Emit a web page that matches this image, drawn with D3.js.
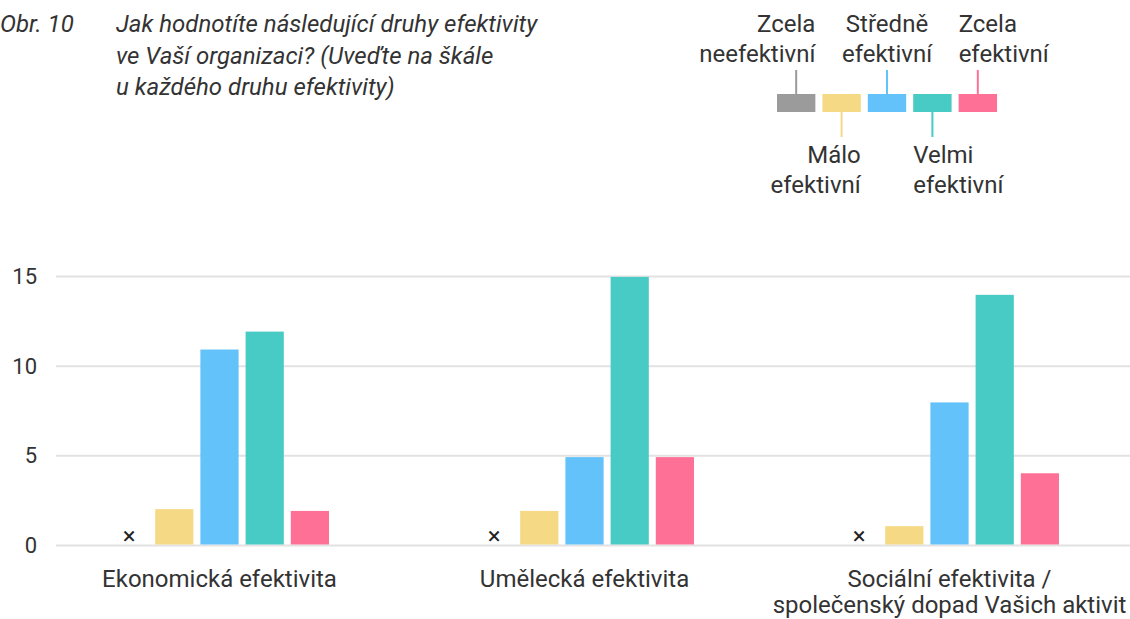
<!DOCTYPE html>
<html>
<head>
<meta charset="utf-8">
<script src="https://cdn.jsdelivr.net/npm/d3@7"></script>
<style>
body { margin: 0; background: #fff; }
text { font-family: Roboto, "DejaVu Sans", sans-serif; fill: #333; }
</style>
</head>
<body>
<script>
var groups = ["Ekonomická efektivita", "Umělecká efektivita", "Sociální efektivita / společenský dopad Vašich aktivit"];
var groupLines = [["Ekonomická efektivita"], ["Umělecká efektivita"], ["Sociální efektivita /", "společenský dopad Vašich aktivit"]];
var series = ["Zcela neefektivní", "Málo efektivní", "Středně efektivní", "Velmi efektivní", "Zcela efektivní"];
var colors = ["#9b9b9b", "#f6d985", "#62c2f9", "#48cac5", "#ff7096"];
var zcelaNeefektivni = [0, 0, 0];
var maloEfektivni = [2, 1.9, 1.05];
var stredneEfektivni = [10.9, 4.9, 7.95];
var velmiEfektivni = [11.9, 14.95, 13.95];
var zcelaEfektivni = [1.9, 4.9, 4];
var yTicks = [0, 5, 10, 15];
var titleLines = ["Jak hodnotíte následující druhy efektivity", "ve Vaší organizaci? (Uveďte na škále", "u každého druhu efektivity)"];

var values = [zcelaNeefektivni, maloEfektivni, stredneEfektivni, velmiEfektivni, zcelaEfektivni];

var width = 1130, height = 619;
var svg = d3.select("body").append("svg")
  .attr("width", width)
  .attr("height", height);

var x0 = d3.scaleBand().domain(groups).range([37, 1132]);
var x1 = d3.scaleBand().domain(series).range([73, 292]).paddingInner(0.155);
var y = d3.scaleLinear().domain([0, 15]).range([545, 276]);

// grid
svg.append("g").selectAll("line")
  .data(yTicks)
  .join("line")
  .attr("x1", 56).attr("x2", width)
  .attr("y1", d => y(d) + 0.5).attr("y2", d => y(d) + 0.5)
  .attr("stroke", "#e2e2e2")
  .attr("stroke-width", 2);

svg.append("g").selectAll("text")
  .data(yTicks)
  .join("text")
  .attr("x", 37)
  .attr("y", d => y(d))
  .attr("dy", "0.36em")
  .attr("text-anchor", "end")
  .style("font-size", "22px")
  .text(d => d);

// bars
var g = svg.append("g").selectAll("g")
  .data(groups)
  .join("g")
  .attr("transform", d => "translate(" + x0(d) + ",0)");

g.each(function(grp, gi) {
  var sel = d3.select(this);
  series.forEach(function(s, si) {
    var v = values[si][gi];
    if (v === 0) {
      sel.append("text")
        .attr("x", x1(s) + x1.bandwidth() / 2)
        .attr("y", y(0) - 9)
        .attr("dy", "0.35em")
        .attr("text-anchor", "middle")
        .style("font-size", "24px")
        .style("fill", "#222")
        .text("×");
    } else {
      sel.append("rect")
        .attr("x", x1(s))
        .attr("width", x1.bandwidth())
        .attr("y", y(v))
        .attr("height", y(0) - y(v) - 0.5)
        .attr("fill", colors[si]);
    }
  });
});

// category labels
groups.forEach(function(grp, gi) {
  var t = svg.append("text")
    .attr("x", x0(grp) + x0.bandwidth() / 2)
    .attr("y", 587)
    .attr("text-anchor", "middle")
    .style("font-size", "24px");
  groupLines[gi].forEach(function(l, li) {
    t.append("tspan")
      .attr("x", x0(grp) + x0.bandwidth() / 2)
      .attr("dy", li === 0 ? 0 : 26)
      .text(l);
  });
});

// title
svg.append("text")
  .attr("x", 0).attr("y", 32)
  .style("font-size", "24px")
  .style("font-style", "italic")
  .text("Obr. 10");
titleLines.forEach(function(l, i) {
  svg.append("text")
    .attr("x", 116).attr("y", 32 + i * 31.5)
    .style("font-size", "24px")
    .style("font-style", "italic")
    .text(l);
});

// legend
var lx = d3.scaleBand().domain(series).range([777, 997]).paddingInner(0.155);
var legendLabels = [
  {lines: ["Zcela", "neefektivní"], up: true, anchor: "end"},
  {lines: ["Málo", "efektivní"], up: false, anchor: "end"},
  {lines: ["Středně", "efektivní"], up: true, anchor: "middle"},
  {lines: ["Velmi", "efektivní"], up: false, anchor: "start"},
  {lines: ["Zcela", "efektivní"], up: true, anchor: "start"}
];
var leg = svg.append("g");
series.forEach(function(s, i) {
  var bx = lx(s), bw = lx.bandwidth();
  leg.append("rect")
    .attr("x", bx).attr("y", 94)
    .attr("width", bw).attr("height", 18)
    .attr("fill", colors[i]);
  var cx = bx + bw / 2;
  var L = legendLabels[i];
  leg.append("line")
    .attr("x1", cx).attr("x2", cx)
    .attr("y1", L.up ? 70 : 112).attr("y2", L.up ? 94 : 137)
    .attr("stroke", colors[i])
    .attr("stroke-width", 2);
  var tx = L.anchor === "end" ? bx + bw : (L.anchor === "start" ? bx : cx);
  var ty = L.up ? 32 : 163;
  L.lines.forEach(function(l, li) {
    leg.append("text")
      .attr("x", tx).attr("y", ty + li * 30)
      .attr("text-anchor", L.anchor)
      .style("font-size", "24px")
      .text(l);
  });
});
</script>
</body>
</html>
